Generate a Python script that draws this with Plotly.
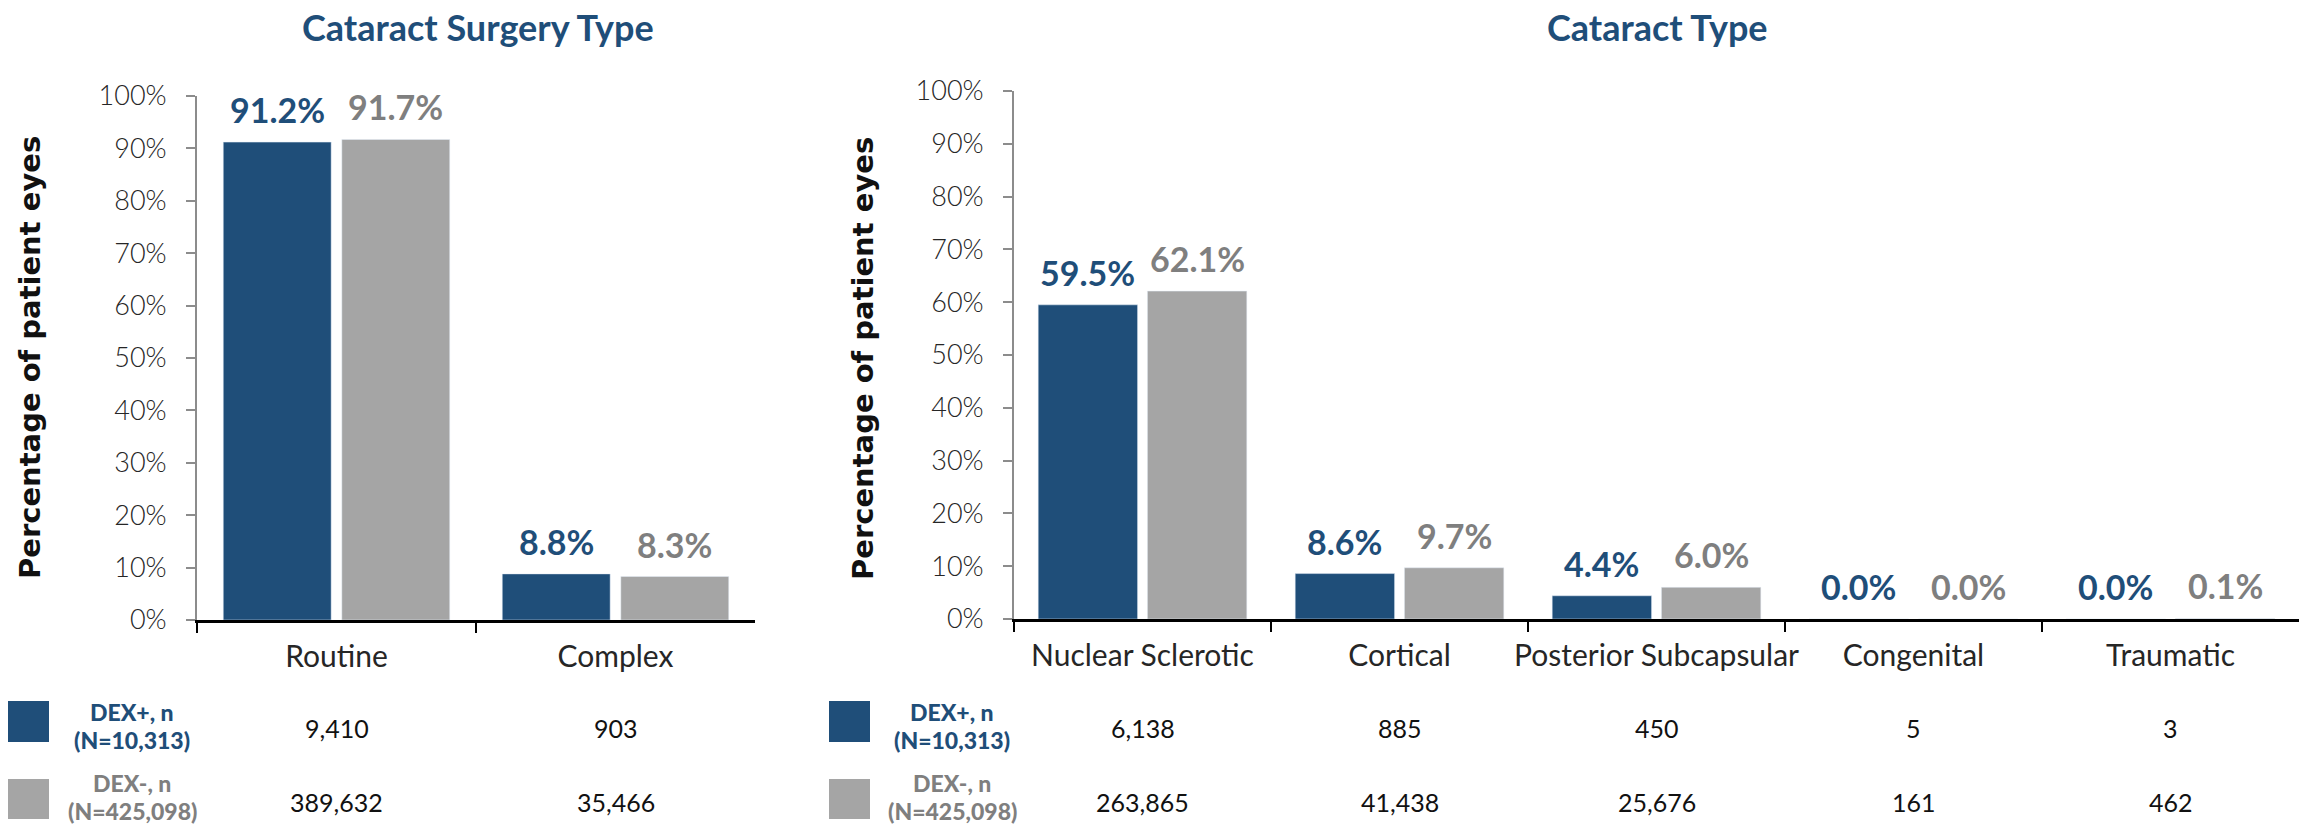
import plotly.graph_objects as go

# ---------------- data ----------------
surgery_categories = ["Routine", "Complex"]
surgery_dex_pos_pct = [91.2, 8.8]
surgery_dex_neg_pct = [91.7, 8.3]
surgery_dex_pos_n = [9410, 903]
surgery_dex_neg_n = [389632, 35466]

cataract_categories = ["Nuclear Sclerotic", "Cortical", "Posterior Subcapsular", "Congenital", "Traumatic"]
cataract_dex_pos_pct = [59.5, 8.6, 4.4, 0.0, 0.0]
cataract_dex_neg_pct = [62.1, 9.7, 6.0, 0.0, 0.1]
cataract_dex_pos_n = [6138, 885, 450, 5, 3]
cataract_dex_neg_n = [263865, 41438, 25676, 161, 462]

y_ticks = [0, 10, 20, 30, 40, 50, 60, 70, 80, 90, 100]
y_tick_labels = [f"{v}%" for v in y_ticks]
series_lines = [["DEX+, n", "(N=10,313)"], ["DEX-, n", "(N=425,098)"]]
panel_titles = ["Cataract Surgery Type", "Cataract Type"]
y_title = "Percentage of patient eyes"

# ---------------- style ----------------
W, H = 2315, 826
BLUE = "#1F4E79"
GRAY = "#A5A5A5"
GRAY_TXT = "#7F7F7F"
DARK = "#262626"
LABEL_FONT = "Lato"
BARGAP = 0.15
BARGROUPGAP = 0.09
slot = (1 - BARGAP) / 2
OFF = slot / 2


def px_x(p):
    return p / W


def px_y(p):
    return 1 - p / H


fig = go.Figure()

panels = [
    dict(cats=surgery_categories, pos=surgery_dex_pos_pct, neg=surgery_dex_neg_pct,
         npos=surgery_dex_pos_n, nneg=surgery_dex_neg_n, xa="x", ya="y",
         title=panel_titles[0], title_x=478, ytitle_x=30, sq_x=8, leg_x=132),
    dict(cats=cataract_categories, pos=cataract_dex_pos_pct, neg=cataract_dex_neg_pct,
         npos=cataract_dex_pos_n, nneg=cataract_dex_neg_n, xa="x2", ya="y2",
         title=panel_titles[1], title_x=1657, ytitle_x=863, sq_x=829, leg_x=952),
]

annotations = []
shapes = []
for p in panels:
    fig.add_trace(go.Bar(x=p["cats"], y=p["pos"], marker_color=BLUE, name="DEX+",
                         xaxis=p["xa"], yaxis=p["ya"], showlegend=False))
    fig.add_trace(go.Bar(x=p["cats"], y=p["neg"], marker_color=GRAY, name="DEX-",
                         xaxis=p["xa"], yaxis=p["ya"], showlegend=False))
    # data labels
    for i, (vp, vn) in enumerate(zip(p["pos"], p["neg"])):
        for v, off, col in ((vp, -OFF, BLUE), (vn, OFF, GRAY_TXT)):
            annotations.append(dict(x=i + off, y=v, xref=p["xa"], yref=p["ya"],
                                    text=f"{v:.1f}%", showarrow=False, yanchor="bottom",
                                    yshift=10,
                                    font=dict(family=LABEL_FONT, size=34, color=col, weight="bold")))
    # table rows
    for c, a, b in zip(p["cats"], p["npos"], p["nneg"]):
        annotations.append(dict(x=c, y=px_y(728), xref=p["xa"], yref="paper", text=f"{a:,}",
                                showarrow=False, yanchor="middle",
                                font=dict(family=LABEL_FONT, size=25, color="#111111")))
        annotations.append(dict(x=c, y=px_y(802), xref=p["xa"], yref="paper", text=f"{b:,}",
                                showarrow=False, yanchor="middle",
                                font=dict(family=LABEL_FONT, size=25, color="#111111")))
    # panel title
    annotations.append(dict(x=px_x(p["title_x"]), y=px_y(27), xref="paper", yref="paper",
                            text=p["title"], showarrow=False, xanchor="center", yanchor="middle",
                            font=dict(family=LABEL_FONT, size=36, color=BLUE, weight="bold")))
    # y title
    annotations.append(dict(x=px_x(p["ytitle_x"]), y=px_y(358), xref="paper", yref="paper",
                            text=y_title, showarrow=False, textangle=-90,
                            xanchor="center", yanchor="middle",
                            font=dict(family="DejaVu Sans", size=29, color="#111111", weight="bold")))
    # legend-like row headers
    for (y0, y1, yl1, yl2), col, txtcol, lines in (((701, 742, 712, 740), BLUE, BLUE, series_lines[0]),
                                                  ((779, 819, 783, 811), GRAY, GRAY_TXT, series_lines[1])):
        shapes.append(dict(type="rect", xref="paper", yref="paper",
                           x0=px_x(p["sq_x"]), x1=px_x(p["sq_x"] + 41),
                           y0=px_y(y1), y1=px_y(y0), fillcolor=col, line=dict(width=0)))
        for yl, line in zip((yl1, yl2), lines):
            annotations.append(dict(x=px_x(p["leg_x"]), y=px_y(yl), xref="paper", yref="paper",
                                    text=line, showarrow=False, xanchor="center", yanchor="middle",
                                    borderpad=0,
                                    font=dict(family=LABEL_FONT, size=23, color=txtcol, weight=900)))

xaxis_common = dict(showline=True, linecolor="black", linewidth=2.5, ticks="outside",
                    tickson="boundaries", ticklen=10, tickwidth=2, tickcolor="black",
                    tickangle=0, automargin=False,
                    tickfont=dict(family=LABEL_FONT, size=30, color=DARK), showgrid=False,
                    zeroline=False, fixedrange=True, ticklabelstandoff=8)
yaxis_common = dict(range=[0, 100], tickmode="array", tickvals=y_ticks, ticktext=y_tick_labels,
                    showline=True, automargin=False,
                    linecolor="#8C8C8C", linewidth=2, ticks="outside", ticklen=9, tickwidth=2,
                    tickcolor="#8C8C8C", showgrid=False, zeroline=False,
                    tickfont=dict(family=LABEL_FONT, size=27, color=DARK, weight=300),
                    ticklabelstandoff=14, fixedrange=True)

fig.update_layout(
    width=W, height=H,
    margin=dict(l=0, r=0, t=0, b=0, autoexpand=False),
    paper_bgcolor="white", plot_bgcolor="white",
    barmode="group", bargap=BARGAP, bargroupgap=BARGROUPGAP,
    xaxis=dict(domain=[px_x(197), px_x(755)], anchor="y", **xaxis_common),
    yaxis=dict(domain=[px_y(620), px_y(96)], anchor="x", **yaxis_common),
    xaxis2=dict(domain=[px_x(1014), px_x(2299)], anchor="y2", **xaxis_common),
    yaxis2=dict(domain=[px_y(619), px_y(91)], anchor="x2", **yaxis_common),
    annotations=annotations,
    shapes=shapes,
    showlegend=False,
)

fig.write_html("out.html", config={"displayModeBar": False},
               post_script="document.body.style.margin='0';")
